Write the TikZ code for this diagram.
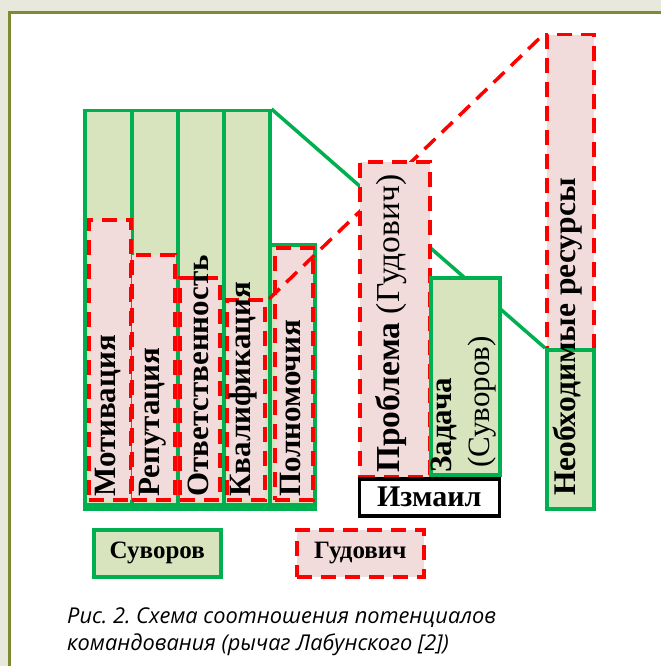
\documentclass[tikz,border=0pt]{standalone}
\usepackage{fontspec}
\setmainfont{Liberation Serif}
\newfontfamily\capfont{Open Sans}
\frenchspacing
\definecolor{sgreen}{HTML}{00B050}
\definecolor{gfill}{HTML}{D7E4BD}
\definecolor{sred}{HTML}{FF0000}
\definecolor{rfill}{HTML}{F2DCDB}
\definecolor{outbg}{HTML}{E8E8DC}
\definecolor{olive}{HTML}{7F8A33}
\tikzset{
  gbox/.style={draw=sgreen, fill=gfill, line width=3.5pt, inner sep=0pt, anchor=north west},
  rbox/.style={draw=sred, fill=rfill, line width=3.5pt, dash pattern=on 15pt off 9pt, inner sep=0pt, anchor=north west},
  kbox/.style={draw=black, fill=white, line width=3.5pt, inner sep=0pt, anchor=north west},
  vlab/.style={rotate=90, anchor=west, inner sep=0pt, font=\fontsize{31}{33}\selectfont\bfseries},
  vlabr/.style={rotate=90, anchor=west, inner sep=0pt, font=\fontsize{31}{33}\selectfont},
  glink/.style={draw=sgreen, line width=3.5pt},
  rlink/.style={draw=sred, line width=3.5pt, dash pattern=on 15pt off 9pt},
  captext/.style={anchor=base west, inner sep=0pt, font=\capfont\itshape\fontsize{21.8}{27}\selectfont},
}
\begin{document}
\begin{tikzpicture}[x=1pt, y=-1pt]
\useasboundingbox (0,0) rectangle (661,666);
\fill[outbg] (0,0) rectangle (661,666);
\fill[white] (9.8,12.5) rectangle (661,666);
\draw[olive, line width=2.7pt] (9.8,666) -- (9.8,12.5) -- (661,12.5);

% left bars (Suvorov)
\node[gbox, minimum width=47pt, minimum height=394pt] (b1) at (83,109) {};
\node[gbox, minimum width=46pt, minimum height=394pt] (b2) at (130,109) {};
\node[gbox, minimum width=46pt, minimum height=394pt] (b3) at (176,109) {};
\node[gbox, minimum width=46pt, minimum height=394pt] (b4) at (222,109) {};
\node[gbox, minimum width=45pt, minimum height=260pt] (b5) at (268,243) {};
% Gudovich boxes
\node[rbox, minimum width=42pt, minimum height=280pt] (r1) at (87,218) {};
\node[rbox, minimum width=43pt, minimum height=245pt] (r2) at (130,253) {};
\node[rbox, minimum width=40pt, minimum height=222pt] (r3) at (178,276) {};
\node[rbox, minimum width=38pt, minimum height=200pt] (r4) at (225,298) {};
\node[rbox, minimum width=38pt, minimum height=252pt] (r5) at (273,246) {};
\draw[sgreen, line width=8pt] (b1.south west) -- (b5.south east);

% resources
\node[rbox, minimum width=47pt, minimum height=315pt] (resr) at (545,33) {};
\node[gbox, minimum width=47pt, minimum height=159pt] (resg) at (545,348) {};

% lever lines
\coordinate (lever) at (269,299);
\draw[glink] (b4.north east) -- (resg.north west);
\draw[rlink] (lever) -- (resr.north west);

% problem / task / Izmail
\node[rbox, minimum width=70pt, minimum height=315pt] (prob) at (358,160) {};
\node[gbox, minimum width=69pt, minimum height=197pt] (task) at (429,276) {};
\node[kbox, minimum width=140pt, minimum height=37pt, font=\fontsize{30}{32}\selectfont\bfseries] (izm) at (357.5,477) {Измаил};

% legend
\node[gbox, minimum width=127pt, minimum height=47pt, font=\fontsize{25}{27}\selectfont\bfseries] (lsuv) at (92,528) {Суворов};
\node[rbox, minimum width=127pt, minimum height=47pt, font=\fontsize{25}{27}\selectfont\bfseries] (lgud) at (295,528) {Гудович};

% vertical labels
\node[vlab] (t1) at (108,497) {Мотивация};
\node[vlab] (t2) at (153,497) {Репутация};
\node[vlab] (t3) at (198,497) {Ответственность};
\node[vlab] (t4) at (243,497) {Квалификация};
\node[vlab] (t5) at (290,497) {Полномочия};
\node[vlab, font=\fontsize{33.5}{35}\selectfont\bfseries] (t6) at (391,473) {Проблема \mdseries(Гудович)};
\node[vlab] (t7) at (444,473) {Задача};
\node[vlabr] (t8) at (482,468) {(Суворов)};
\node[vlab, font=\fontsize{31.5}{33}\selectfont\bfseries] (t9) at (568,496) {Необходимые ресурсы};

% caption
\node[captext] (cap1) at (67,623) {Рис. 2. Схема соотношения потенциалов};
\node[captext] (cap2) at (67,650) {командования (рычаг Лабунского [2])};
\end{tikzpicture}
\end{document}
